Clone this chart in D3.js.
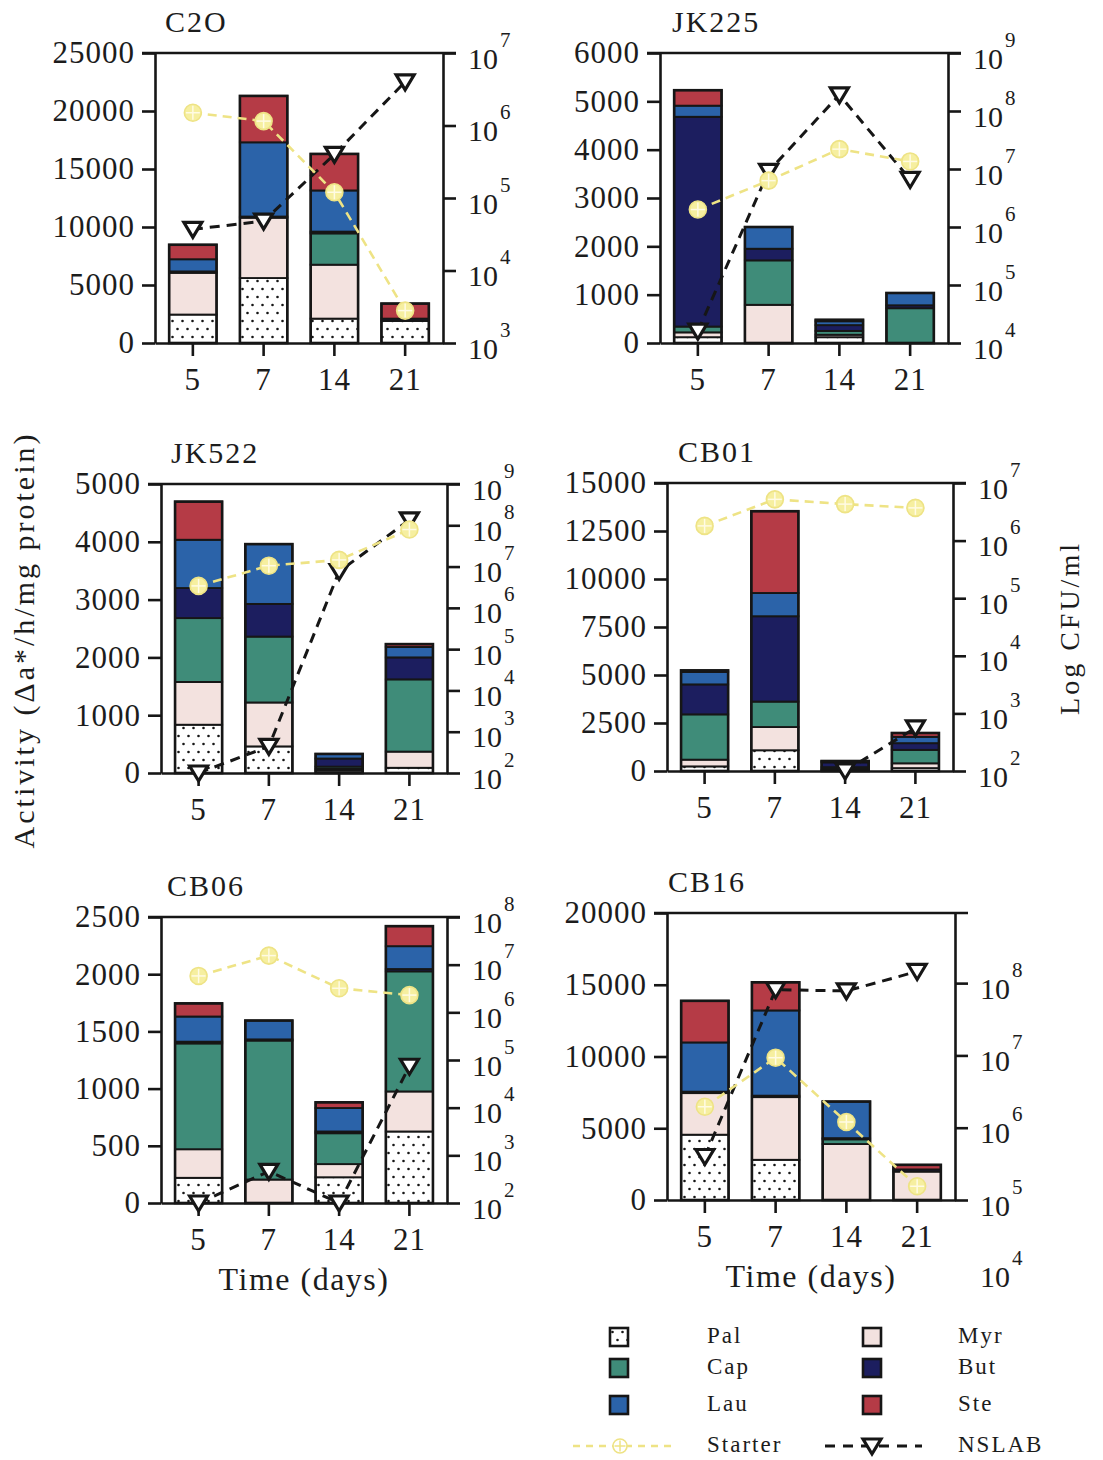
<!DOCTYPE html>
<html>
<head>
<meta charset="utf-8">
<script src="https://cdn.jsdelivr.net/npm/d3@7"></script>
<style>
  html, body { margin: 0; padding: 0; background: #fff; }
  svg text { font-family: "Liberation Serif", "Times New Roman", serif; fill: #1c1c1c; }
</style>
</head>
<body>
<svg id="chart" width="1103" height="1460"></svg>
<script>
// ---- categories ----
const days = ["5", "7", "14", "21"];
const acids = ["Pal", "Myr", "Cap", "But", "Lau", "Ste"];

// ---- esterase activity per sampling day (columns: Pal, Myr, Cap, But, Lau, Ste) ----
const activityC2O = [
  [2450, 3600, 0, 120, 1050, 1250],
  [5600, 5200, 0, 100, 6400, 4000],
  [2100, 4650, 2700, 150, 3550, 3150],
  [1900, 0, 0, 200, 0, 1300]
];
const activityJK225 = [
  [120, 100, 120, 4340, 230, 320],
  [0, 790, 920, 240, 450, 0],
  [120, 50, 80, 120, 80, 30],
  [0, 0, 720, 60, 255, 0]
];
const activityJK522 = [
  [835, 740, 1105, 520, 835, 660],
  [460, 760, 1140, 565, 1035, 0],
  [40, 30, 40, 140, 80, 0],
  [90, 280, 1250, 380, 180, 50]
];
const activityCB01 = [
  [240, 350, 2360, 1560, 650, 80],
  [1080, 1210, 1325, 4445, 1210, 4260],
  [50, 50, 100, 250, 50, 20],
  [150, 250, 700, 350, 330, 200]
];
const activityCB06 = [
  [220, 250, 925, 15, 220, 115],
  [0, 205, 1215, 10, 165, 0],
  [225, 115, 270, 15, 205, 50],
  [625, 350, 1050, 20, 200, 175]
];
const activityCB16 = [
  [4550, 2900, 0, 100, 3430, 2900],
  [2800, 4370, 0, 100, 5940, 1960],
  [0, 3900, 330, 80, 2550, 0],
  [0, 1980, 0, 150, 0, 320]
];

// ---- viable counts (CFU/ml) ----
const starterC2O = [1.5e6, 1.15e6, 1.2e5, 2.8e3];
const nslabC2O = [3.7e4, 4.8e4, 4.0e5, 4.0e6];
const starterJK225 = [2.0e6, 6.3e6, 2.2e7, 1.35e7];
const nslabJK225 = [1.6e4, 9.1e6, 1.9e8, 6.6e6];
const starterJK522 = [3.4e6, 1.05e7, 1.45e7, 7.9e7];
const nslabJK522 = [1.0e2, 4.4e2, 7.6e6, 1.35e8];
const starterCB01 = [1.8e6, 5.2e6, 4.3e6, 3.7e6];
const nslabCB01 = [null, null, 1.0e2, 5.6e2];
const starterCB06 = [5.8e6, 1.55e7, 3.2e6, 2.3e6];
const nslabCB06 = [1.0e2, 4.6e2, 1.0e2, 7.4e4];
const starterCB16 = [1.95e6, 9.3e6, 1.2e6, 1.55e5];
const nslabCB16 = [4.0e5, 8.1e7, 7.8e7, 1.45e8];

// ---- tick labels ----
const ticksC2O = [0, 5000, 10000, 15000, 20000, 25000];
const ticksJK225 = [0, 1000, 2000, 3000, 4000, 5000, 6000];
const ticksJK522 = [0, 1000, 2000, 3000, 4000, 5000];
const ticksCB01 = [0, 2500, 5000, 7500, 10000, 12500, 15000];
const ticksCB06 = [0, 500, 1000, 1500, 2000, 2500];
const ticksCB16 = [0, 5000, 10000, 15000, 20000];
const logTicksC2O = [3, 4, 5, 6, 7];
const logTicksJK225 = [4, 5, 6, 7, 8, 9];
const logTicksJK522 = [2, 3, 4, 5, 6, 7, 8, 9];
const logTicksCB01 = [2, 3, 4, 5, 6, 7];
const logTicksCB06 = [2, 3, 4, 5, 6, 7, 8];
const logTicksCB16 = [5, 6, 7, 8];

// ---- styling ----
const acidFill = ["url(#dots)", "#f3e2df", "#3f8c79", "#1c1e5f", "#2b63a9", "#b53b46"];
const INK = "#161616";
const STARTER = "#eee385";

// ---- panel layout ----
const panels = [
  { title: "C2O", activity: activityC2O, starter: starterC2O, nslab: nslabC2O, ticks: ticksC2O, logTicks: logTicksC2O,
    yMax: 25000, logDomain: [1e3, 1e7], x0: 155, y0: 53, w: 288, h: 290, tdx: 10 },
  { title: "JK225", activity: activityJK225, starter: starterJK225, nslab: nslabJK225, ticks: ticksJK225, logTicks: logTicksJK225,
    yMax: 6000, logDomain: [1e4, 1e9], x0: 660, y0: 53, w: 288, h: 290, tdx: 12 },
  { title: "JK522", activity: activityJK522, starter: starterJK522, nslab: nslabJK522, ticks: ticksJK522, logTicks: logTicksJK522,
    yMax: 5000, logDomain: [1e2, 1e9], x0: 161, y0: 484, w: 286, h: 289, tdx: 10 },
  { title: "CB01", activity: activityCB01, starter: starterCB01, nslab: nslabCB01, ticks: ticksCB01, logTicks: logTicksCB01,
    yMax: 15000, logDomain: [1e2, 1e7], x0: 667, y0: 483, w: 286, h: 288, tdx: 11 },
  { title: "CB06", activity: activityCB06, starter: starterCB06, nslab: nslabCB06, ticks: ticksCB06, logTicks: logTicksCB06,
    yMax: 2500, logDomain: [1e2, 1e8], x0: 161, y0: 917, w: 286, h: 286, tdx: 6, xTitle: true },
  { title: "CB16", activity: activityCB16, starter: starterCB16, nslab: nslabCB16, ticks: ticksCB16, logTicks: logTicksCB16,
    yMax: 20000, logDomain: [1e5, Math.pow(10, 8.97)], x0: 667, y0: 913, w: 288, h: 287, tdx: 1, xTitle: true, extraLog: [4] }
];

const svg = d3.select("#chart");

// stipple fill for palmitate
const defs = svg.append("defs");
const pat = defs.append("pattern").attr("id", "dots")
  .attr("width", 10).attr("height", 16).attr("patternUnits", "userSpaceOnUse");
pat.append("rect").attr("width", 10).attr("height", 16).attr("fill", "#ffffff");
pat.append("circle").attr("cx", 2.5).attr("cy", 4).attr("r", 1.3).attr("fill", INK);
pat.append("circle").attr("cx", 7.5).attr("cy", 12).attr("r", 1.3).attr("fill", INK);

const triPath = "M-9,-7 L9,-7 L0,8 Z";

function drawStarterMarker(sel, r, filled) {
  sel.append("circle").attr("r", r)
    .attr("fill", filled ? "#f6efa0" : "#ffffff")
    .attr("stroke", STARTER).attr("stroke-width", 1.6);
  sel.append("line").attr("x1", -(r - 1.5)).attr("x2", r - 1.5)
    .attr("stroke", filled ? "#fffbe4" : STARTER).attr("stroke-width", 1.5);
  sel.append("line").attr("y1", -(r - 1.5)).attr("y2", r - 1.5)
    .attr("stroke", filled ? "#fffbe4" : STARTER).attr("stroke-width", 1.5);
}

function styleAxis(ax) {
  ax.attr("font-family", null).attr("font-size", null);
  ax.selectAll("path, line").attr("stroke", INK).attr("stroke-width", 2.6);
}

function drawPanel(p) {
  const g = svg.append("g").attr("transform", `translate(${p.x0},${p.y0})`);
  const x = d3.scaleBand().domain(days).range([0, p.w]).paddingInner(0.33).paddingOuter(0.2);
  const y = d3.scaleLinear().domain([0, p.yMax]).range([p.h, 0]);
  const yR = d3.scaleLog().domain(p.logDomain).range([p.h, 0]);
  const cx = i => x(days[i]) + x.bandwidth() / 2;

  const rows = p.activity.map((r, i) =>
    Object.assign({ day: days[i] }, Object.fromEntries(acids.map((a, j) => [a, r[j]]))));
  const series = d3.stack().keys(acids)(rows);

  // stacked bars
  const bars = g.append("g");
  series.forEach((s, k) => {
    bars.selectAll(null).data(s.filter(d => d[1] > d[0])).join("rect")
      .attr("x", d => x(d.data.day)).attr("width", x.bandwidth())
      .attr("y", d => y(d[1])).attr("height", d => y(d[0]) - y(d[1]))
      .attr("fill", acidFill[k]).attr("stroke", INK).attr("stroke-width", 1.9);
  });
  bars.selectAll(null).data(rows).join("rect")
    .attr("x", d => x(d.day)).attr("width", x.bandwidth())
    .attr("y", d => y(d3.sum(acids, a => d[a])))
    .attr("height", d => p.h - y(d3.sum(acids, a => d[a])))
    .attr("fill", "none").attr("stroke", INK).attr("stroke-width", 2.6);

  // left axis (activity)
  const axL = g.append("g").call(d3.axisLeft(y).tickValues(p.ticks).tickSize(13)
    .tickSizeOuter(0).tickPadding(7).tickFormat(d => d));
  styleAxis(axL);
  axL.selectAll("text").attr("font-size", 31).attr("letter-spacing", 1).attr("fill", "#1c1c1c");

  // right axis (counts, log)
  const axR = g.append("g").attr("transform", `translate(${p.w},0)`)
    .call(d3.axisRight(yR).tickValues(p.logTicks.map(e => Math.pow(10, e)))
      .tickSize(13).tickSizeOuter(0).tickFormat(""));
  styleAxis(axR);
  axR.selectAll(".tick text").remove();
  const powLabel = (sel, e) => {
    const t = sel.append("text").attr("x", 25).attr("y", 15).attr("font-size", 30);
    t.append("tspan").text("10");
    t.append("tspan").attr("dx", 2).attr("dy", -22).attr("font-size", 21).text(e);
  };
  axR.selectAll(".tick").each(function (d) {
    powLabel(d3.select(this), Math.round(Math.log10(d)));
  });
  (p.extraLog || []).forEach(e => {
    powLabel(axR.append("g").attr("transform", `translate(0,${yR(Math.pow(10, e))})`), e);
  });

  // bottom axis (days)
  const axB = g.append("g").attr("transform", `translate(0,${p.h})`)
    .call(d3.axisBottom(x).tickSize(13).tickSizeOuter(0).tickPadding(12));
  styleAxis(axB);
  axB.selectAll("text").attr("font-size", 31).attr("letter-spacing", 1).attr("fill", "#1c1c1c");

  // top frame line
  g.append("line").attr("x1", -13).attr("x2", p.w + 13).attr("y1", 0).attr("y2", 0)
    .attr("stroke", INK).attr("stroke-width", 2.6);

  // panel title
  g.append("text").attr("x", p.tdx).attr("y", -21).attr("font-size", 30)
    .attr("letter-spacing", 2).text(p.title);

  if (p.xTitle) {
    g.append("text").attr("x", p.w / 2).attr("y", p.h + 87).attr("text-anchor", "middle")
      .attr("font-size", 32).attr("letter-spacing", 1.5).text("Time (days)");
  }

  const line = d3.line().defined(d => d != null).x((d, i) => cx(i)).y(d => yR(d));

  // non-starter LAB counts
  g.append("path").datum(p.nslab).attr("d", line).attr("fill", "none")
    .attr("stroke", INK).attr("stroke-width", 3).attr("stroke-dasharray", "10,7");
  g.selectAll(null).data(p.nslab.map((v, i) => ({ v, i })).filter(d => d.v != null)).join("path")
    .attr("transform", d => `translate(${cx(d.i)},${yR(d.v)})`)
    .attr("d", triPath).attr("fill", "#ffffff").attr("stroke", INK)
    .attr("stroke-width", 3.2).attr("stroke-linejoin", "miter");

  // starter counts
  g.append("path").datum(p.starter).attr("d", line).attr("fill", "none")
    .attr("stroke", STARTER).attr("stroke-width", 2.6).attr("stroke-dasharray", "9,6");
  g.selectAll(null).data(p.starter.map((v, i) => ({ v, i }))).join("g")
    .attr("transform", d => `translate(${cx(d.i)},${yR(d.v)})`)
    .each(function () { drawStarterMarker(d3.select(this), 8.5, true); });
}

panels.forEach(drawPanel);

// shared axis titles
svg.append("text").attr("transform", "translate(34,640) rotate(-90)")
  .attr("text-anchor", "middle").attr("font-size", 30).attr("letter-spacing", 3)
  .text("Activity (\u0394a*/h/mg protein)");
svg.append("text").attr("transform", "translate(1079,628) rotate(-90)")
  .attr("text-anchor", "middle").attr("font-size", 28).attr("letter-spacing", 3)
  .text("Log CFU/ml");

// legend
const legend = svg.append("g");
const colX = [610, 863];
const labelX = [707, 958];
const rowY = [1337, 1368, 1405, 1446];
acids.forEach((a, i) => {
  const c = i % 2, r = Math.floor(i / 2);
  legend.append("rect").attr("x", colX[c]).attr("y", rowY[r] - 9).attr("width", 18).attr("height", 18)
    .attr("fill", acidFill[i]).attr("stroke", INK).attr("stroke-width", 2.6);
  legend.append("text").attr("x", labelX[c]).attr("y", rowY[r] + 6)
    .attr("font-size", 23).attr("letter-spacing", 2).text(a);
});
legend.append("line").attr("x1", 573).attr("x2", 675).attr("y1", rowY[3]).attr("y2", rowY[3])
  .attr("stroke", STARTER).attr("stroke-width", 2.4).attr("stroke-dasharray", "7,6");
drawStarterMarker(legend.append("g").attr("transform", `translate(620,${rowY[3]})`), 7, false);
legend.append("text").attr("x", labelX[0]).attr("y", rowY[3] + 6)
  .attr("font-size", 23).attr("letter-spacing", 2).text("Starter");
legend.append("line").attr("x1", 825).attr("x2", 922).attr("y1", rowY[3]).attr("y2", rowY[3])
  .attr("stroke", INK).attr("stroke-width", 3).attr("stroke-dasharray", "10,8");
legend.append("path").attr("transform", `translate(872,${rowY[3]})`).attr("d", triPath)
  .attr("fill", "#ffffff").attr("stroke", INK).attr("stroke-width", 3.2);
legend.append("text").attr("x", labelX[1]).attr("y", rowY[3] + 6)
  .attr("font-size", 23).attr("letter-spacing", 2).text("NSLAB");
</script>
</body>
</html>
